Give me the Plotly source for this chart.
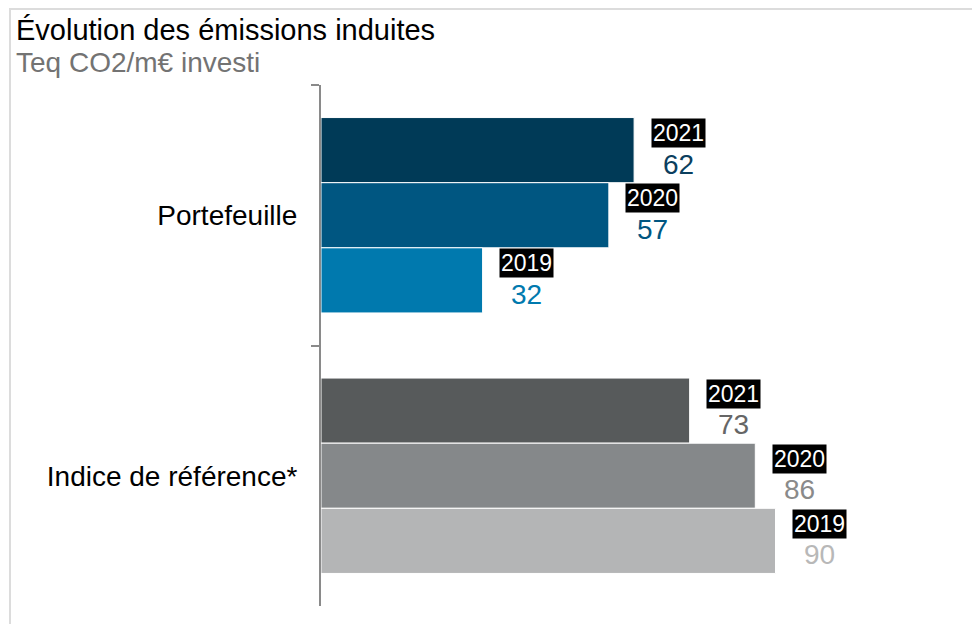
import plotly.graph_objects as go

categories = ["Portefeuille", "Indice de référence*"]
years = ["2021", "2020", "2019"]
values = {
    "2021": [62, 73],
    "2020": [57, 86],
    "2019": [32, 90],
}
bar_colors = {
    "2021": ["#003a57", "#575a5b"],
    "2020": ["#005681", "#85888a"],
    "2019": ["#0079ae", "#b4b5b6"],
}
value_colors = {
    "2021": ["#0b3f5e", "#666666"],
    "2020": ["#005681", "#8a8a8a"],
    "2019": ["#0079ae", "#b8b8b8"],
}
title = "Évolution des émissions induites"
subtitle = "Teq CO2/m€ investi"

FONT = "Liberation Sans, Arial, sans-serif"
W, H = 972, 624
ML, MR, MT, MB = 321, 12, 85, 18
PW = W - ML - MR
PH = H - MT - MB
XMAX = PW / 5.05

fig = go.Figure()
for y in years:
    fig.add_trace(go.Bar(
        y=categories, x=values[y], orientation="h", name=y,
        marker=dict(color=bar_colors[y], line=dict(color="white", width=1)),
        hoverinfo="x+y",
    ))

# bar offsets in pixels (2021 top, 2019 bottom) relative to category center
cat_px = PH / len(categories)
bar_px = cat_px * (1 - 0.25) / len(years)
annotations = []
for i, y in enumerate(years):
    off = (1 - i) * bar_px  # positive = up
    for j, c in enumerate(categories):
        v = values[y][j]
        annotations.append(dict(
            x=v, y=c, xref="x", yref="y", text=y, showarrow=False,
            xanchor="center", yanchor="middle", xshift=44, yshift=off + 17,
            bgcolor="black", borderpad=1,
            font=dict(family=FONT, size=23, color="white"),
        ))
        annotations.append(dict(
            x=v, y=c, xref="x", yref="y", text=str(v), showarrow=False,
            xanchor="center", yanchor="middle", xshift=44, yshift=off - 14,
            font=dict(family=FONT, size=28, color=value_colors[y][j]),
        ))

annotations.append(dict(
    x=(14 - ML) / PW, y=1 + (MT - 30) / PH, xref="paper", yref="paper",
    text=title, showarrow=False, xanchor="left", yanchor="middle",
    font=dict(family=FONT, size=29, color="black"),
))
annotations.append(dict(
    x=(14 - ML) / PW, y=1 + (MT - 63) / PH, xref="paper", yref="paper",
    text=subtitle, showarrow=False, xanchor="left", yanchor="middle",
    font=dict(family=FONT, size=28, color="#737373"),
))

fig.update_layout(
    width=W, height=H,
    margin=dict(l=ML, r=MR, t=MT, b=MB),
    paper_bgcolor="white", plot_bgcolor="white",
    barmode="group", bargap=0.25, bargroupgap=0,
    showlegend=False,
    annotations=annotations,
    shapes=[dict(
        type="rect", xref="paper", yref="paper",
        x0=(10 - ML) / PW, x1=1.2, y0=-0.2, y1=1 + (MT - 9) / PH,
        line=dict(color="#dcdcdc", width=2), fillcolor="rgba(0,0,0,0)",
        layer="below",
    )],
    xaxis=dict(range=[0, XMAX], visible=False, fixedrange=True),
    yaxis=dict(
        type="category", autorange="reversed",
        showline=True, linecolor="#8a8a8a", linewidth=2,
        ticks="outside", tickson="boundaries", ticklen=8, tickwidth=2,
        tickcolor="#8a8a8a", showgrid=False, zeroline=False,
        tickfont=dict(family=FONT, size=28, color="black"),
        ticklabelstandoff=16,
    ),
)

fig.write_html("out.html")
